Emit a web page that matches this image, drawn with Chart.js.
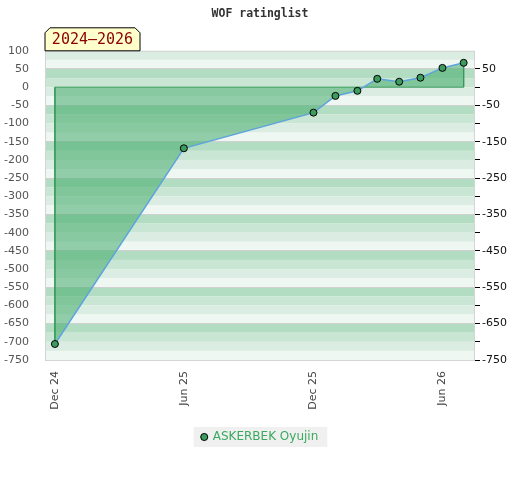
<!DOCTYPE html>
<html>
<head>
<meta charset="utf-8">
<script src="https://cdn.jsdelivr.net/npm/chart.js@4"></script>
<style>
  html, body { margin: 0; padding: 0; background: #fff; }
  #wrap { width: 520px; height: 480px; }
</style>
</head>
<body>
<div id="wrap"><canvas id="wofChart" width="520" height="480"></canvas></div>
<script>
// rating list months and the player's values
const months = ["2024-12-01", "2025-06-01", "2025-12-01", "2026-01-01", "2026-02-01",
                "2026-03-01", "2026-04-01", "2026-05-01", "2026-06-01", "2026-07-01"];
const ratings = [-706, -168, -70, -24, -10, 23, 15, 26, 53, 67];

const xTickDates = ["2024-12-01", "2025-06-01", "2025-12-01", "2026-06-01"];
const xTickLabels = ["Dec 24", "Jun 25", "Dec 25", "Jun 26"];
const xRange = ["2024-11-17", "2026-07-17"];

const playerName = "ASKERBEK Oyujin";
const periodLabel = "2024\u20132026";

const toTime = s => new Date(s + "T00:00:00Z").getTime();

const points = months.map((m, i) => ({ x: toTime(m), y: ratings[i] }));
// area under the line down to zero, closed at both ends
const area = [{ x: points[0].x, y: 0 }, ...points, { x: points[points.length - 1].x, y: 0 }];
const baseLine = [{ x: points[0].x, y: 0 }, { x: points[points.length - 1].x, y: 0 }];

const areaGreen = "#3a9a5c";

/* ===== background stripes, frame, legend box, period tag ===== */
const bandColors = ["#b3ddc3", "#c8e6d3", "#dbede2", "#eef7f1"];

const decorPlugin = {
  id: "decor",
  beforeDraw(chart) {
    const { ctx, chartArea: a, scales } = chart;
    const y = scales.y;
    ctx.save();
    for (let top = y.max; top > y.min; top -= 25) {
      const k = (((50 - top) / 25) % 4 + 4) % 4;
      const y1 = y.getPixelForValue(top);
      const y2 = y.getPixelForValue(top - 25);
      ctx.fillStyle = bandColors[k];
      ctx.fillRect(a.left, y1, a.right - a.left, y2 - y1);
    }
    // legend background
    const hb = chart.legend.legendHitBoxes[0];
    if (hb) {
      ctx.fillStyle = "#f0f0f0";
      const cy = hb.top + hb.height / 2;
      ctx.fillRect(hb.left - 8, cy - 10, hb.width + 17, 20);
    }
    ctx.restore();
  },
  afterDatasetsDraw(chart) {
    const { ctx, chartArea: a } = chart;
    ctx.save();
    ctx.strokeStyle = "#d4d4d4";
    ctx.lineWidth = 1;
    ctx.strokeRect(a.left + 0.5, a.top + 0.5, a.right - a.left - 1, a.bottom - a.top);
    ctx.restore();
  },
  afterDraw(chart) {
    const { ctx, chartArea: a } = chart;
    const x0 = a.left, x1 = a.left + 95, y0 = a.top - 23, y1 = a.top, c = 5;
    ctx.save();
    ctx.beginPath();
    ctx.moveTo(x0, y1);
    ctx.lineTo(x0, y0 + c);
    ctx.lineTo(x0 + c, y0);
    ctx.lineTo(x1 - c, y0);
    ctx.lineTo(x1, y0 + c);
    ctx.lineTo(x1, y1);
    ctx.closePath();
    ctx.fillStyle = "#ffffcc";
    ctx.fill();
    ctx.strokeStyle = "#000";
    ctx.lineWidth = 1;
    ctx.stroke();
    ctx.fillStyle = "#8b0000";
    ctx.font = "15px 'DejaVu Sans Mono', monospace";
    ctx.textAlign = "center";
    ctx.textBaseline = "middle";
    ctx.fillText(periodLabel, (x0 + x1) / 2, (y0 + y1) / 2 + 1);
    ctx.restore();
  }
};

const ctx = document.getElementById("wofChart").getContext("2d");

const chart = new Chart(ctx, {
  type: "line",
  data: {
    datasets: [{
      label: "area",
      data: area,
      order: 3,
      fill: "origin",
      backgroundColor: "rgba(70,172,108,0.55)",
      borderWidth: 1,
      // only the two closing edges get an outline
      segment: {
        borderColor: s => (s.p0DataIndex === 0 || s.p1DataIndex === area.length - 1) ? areaGreen : "rgba(0,0,0,0)"
      },
      pointRadius: 0,
      tension: 0
    }, {
      label: "base",
      data: baseLine,
      order: 2,
      fill: false,
      borderColor: areaGreen,
      borderWidth: 1,
      pointRadius: 0
    }, {
      label: playerName,
      data: points,
      order: 1,
      fill: false,
      borderColor: "#5ea3dc",
      borderWidth: 1.5,
      pointRadius: 3.5,
      pointBackgroundColor: "#3c9c5e",
      pointBorderColor: "#000",
      pointBorderWidth: 1,
      tension: 0
    }]
  },
  options: {
    responsive: false,
    animation: false,
    layout: { padding: { left: 0, right: 0, top: 0, bottom: 27 } },
    plugins: {
      title: {
        display: true,
        text: "WOF ratinglist",
        color: "#333",
        font: { family: "'DejaVu Sans Mono', monospace", size: 11.5, weight: "bold" },
        padding: { top: 7, bottom: 30 }
      },
      legend: {
        position: "bottom",
        labels: {
          filter: item => item.datasetIndex === 2,
          usePointStyle: true,
          pointStyle: "circle",
          boxWidth: 5,
          boxHeight: 5,
          padding: 10,
          color: "#3aaa5e",
          font: { family: "'DejaVu Sans', sans-serif", size: 12 }
        }
      },
      tooltip: { enabled: false }
    },
    scales: {
      x: {
        type: "linear",
        min: toTime(xRange[0]),
        max: toTime(xRange[1]),
        afterBuildTicks: s => { s.ticks = xTickDates.map(d => ({ value: toTime(d) })); },
        afterFit: s => { s.height = 61; },
        grid: { display: false },
        border: { display: false },
        ticks: {
          autoSkip: false,
          minRotation: 90,
          maxRotation: 90,
          padding: 3,
          color: "#444",
          font: { family: "'DejaVu Sans', sans-serif", size: 11 },
          callback: v => xTickLabels[xTickDates.map(toTime).indexOf(v)]
        }
      },
      y: {
        position: "left",
        min: -750,
        max: 100,
        afterFit: s => { s.width = 45; },
        grid: { display: false },
        border: { display: false },
        ticks: {
          stepSize: 50,
          padding: 8,
          color: "#555",
          font: { family: "'DejaVu Sans', sans-serif", size: 11 }
        }
      },
      y2: {
        position: "right",
        min: -750,
        max: 100,
        afterFit: s => { s.width = 45; },
        border: { display: false },
        grid: {
          drawOnChartArea: true,
          color: c => ((c.tick && (c.tick.value + 50) % 100 === 0) ? "#d0d0d0" : "rgba(0,0,0,0)"),
          tickColor: c => ((c.tick && c.tick.value === 100) ? "rgba(0,0,0,0)" : "#000"),
          tickLength: 5,
          lineWidth: 1
        },
        ticks: {
          stepSize: 50,
          padding: 2,
          color: "#111",
          font: { family: "'DejaVu Sans', sans-serif", size: 11 },
          callback: v => ((v + 50) % 100 === 0 ? String(v) : "")
        }
      }
    }
  },
  plugins: [decorPlugin]
});
</script>
</body>
</html>
